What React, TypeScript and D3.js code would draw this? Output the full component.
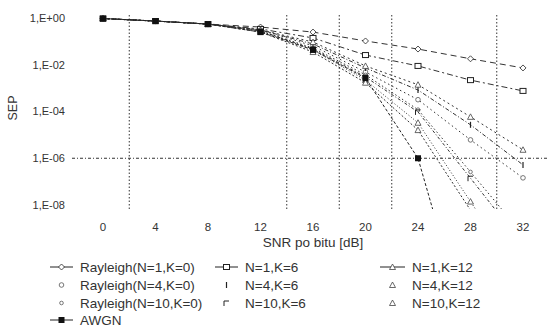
import * as d3 from "d3"

// SNR points (dB)
const snr = [0, 4, 8, 12, 16, 20, 24, 28, 32]

// SEP values
const rayN1K0 = [0.95, 0.74, 0.55, 0.41, 0.25, 0.104, 0.047, 0.018, 7.3e-3]
const rayN4K0 = [0.95, 0.74, 0.55, 0.31, 0.064, 4.9e-3, 3.2e-4, 6.1e-6, 1.45e-7]
const rayN10K0 = [0.95, 0.74, 0.55, 0.28, 0.052, 3.7e-3, 1.2e-4, 2.6e-7, 5.4e-10]
const n1K6 = [0.95, 0.74, 0.55, 0.34, 0.14, 0.026, 8.9e-3, 2.2e-3, 7.6e-4]
const n4K6 = [0.95, 0.74, 0.55, 0.31, 0.077, 7.3e-3, 8.3e-4, 2.7e-5, 5.2e-7]
const n10K6 = [0.95, 0.74, 0.55, 0.28, 0.047, 3.0e-3, 9.6e-5, 1.4e-7, 2e-10]
const n1K12 = [0.95, 0.74, 0.55, 0.31, 0.094, 8.9e-3, 1.4e-3, 5.9e-5, 2.3e-6]
const n4K12 = [0.95, 0.74, 0.55, 0.28, 0.043, 2.2e-3, 3.3e-5, 1.4e-8, 6e-12]
const n10K12 = [0.95, 0.74, 0.55, 0.25, 0.035, 1.7e-3, 1.6e-5, 6e-9, 1e-12]
const awgn = [0.95, 0.74, 0.55, 0.25, 0.043, 2.7e-3, 1e-6, 1.6e-14]

const xTicks = [0, 4, 8, 12, 16, 20, 24, 28, 32]
const yTicks = [1, 1e-2, 1e-4, 1e-6, 1e-8]
const xGrid = [2, 14, 18, 22, 30]
const yGrid = [1e-6]

type Marker = "diamond" | "circle" | "smallcircle" | "square" | "tick" | "corner" | "triangle" | "filled"

const series: { name: string; values: number[]; dash: string; marker: Marker; legendLine: boolean }[] = [
  { name: "Rayleigh(N=1,K=0)", values: rayN1K0, dash: "6,4", marker: "diamond", legendLine: true },
  { name: "Rayleigh(N=4,K=0)", values: rayN4K0, dash: "1.5,3", marker: "circle", legendLine: false },
  { name: "Rayleigh(N=10,K=0)", values: rayN10K0, dash: "1.5,2.5", marker: "smallcircle", legendLine: false },
  { name: "N=1,K=6", values: n1K6, dash: "6,3,2,3", marker: "square", legendLine: true },
  { name: "N=4,K=6", values: n4K6, dash: "4,2,1,2", marker: "tick", legendLine: false },
  { name: "N=10,K=6", values: n10K6, dash: "3,2,1,2", marker: "corner", legendLine: false },
  { name: "N=1,K=12", values: n1K12, dash: "2,3", marker: "triangle", legendLine: true },
  { name: "N=4,K=12", values: n4K12, dash: "1,2", marker: "triangle", legendLine: false },
  { name: "N=10,K=12", values: n10K12, dash: "2,2", marker: "triangle", legendLine: false },
  { name: "AWGN", values: awgn, dash: "3,2", marker: "filled", legendLine: true },
]

const legendOrder = [0, 3, 6, 1, 4, 7, 2, 5, 8, 9]

const fmt = (v: number) => {
  const e = Math.round(Math.log10(v))
  return `1,E${e >= 0 ? "+" : "-"}${String(Math.abs(e)).padStart(2, "0")}`
}

function MarkerShape({ type, x, y }: { type: Marker; x: number; y: number }) {
  const c = "#222"
  switch (type) {
    case "diamond":
      return <path d={`M${x},${y - 3}L${x + 3},${y}L${x},${y + 3}L${x - 3},${y}Z`} fill="white" stroke={c} strokeWidth={0.8} />
    case "circle":
      return <circle cx={x} cy={y} r={2.3} fill="white" stroke="#555" strokeWidth={0.8} />
    case "smallcircle":
      return <circle cx={x} cy={y} r={1.8} fill="white" stroke="#555" strokeWidth={0.8} />
    case "square":
      return <rect x={x - 3} y={y - 2.5} width={6} height={5} fill="white" stroke={c} strokeWidth={1} />
    case "tick":
      return <line x1={x} x2={x} y1={y - 3} y2={y + 3} stroke={c} strokeWidth={1.2} />
    case "corner":
      return <path d={`M${x - 2.5},${y + 3}V${y - 2}H${x + 2.5}`} fill="none" stroke={c} strokeWidth={1} />
    case "triangle":
      return <path d={`M${x},${y - 3}L${x + 3},${y + 2.5}L${x - 3},${y + 2.5}Z`} fill="white" stroke="#444" strokeWidth={0.8} />
    case "filled":
      return <rect x={x - 3} y={y - 3} width={6} height={6} fill="#111" />
  }
}

export default function App() {
  const width = 550
  const height = 330
  const x = d3.scaleLinear().domain([0, 32]).range([103, 523])
  const y = d3.scaleLog().domain([1e-8, 1]).range([205, 18])
  const clipTop = 14
  const clipBottom = 209

  const line = d3
    .line<[number, number]>()
    .x((d) => x(d[0]))
    .y((d) => y(d[1]))

  const font = "'Liberation Sans', Arial, sans-serif"
  const textColor = "#333"

  // legend columns: line start, line end, text start
  const legCols = [
    { x1: 50, x2: 73, tx: 80 },
    { x1: 215, x2: 238, tx: 245 },
    { x1: 380, x2: 405, tx: 412 },
  ]
  const legRows = [267, 285, 303, 320]

  return (
    <svg width={width} height={height} style={{ position: "absolute", left: 0, top: 0, background: "white" }} fontFamily={font}>
      <defs>
        <clipPath id="plot">
          <rect x={70} y={clipTop} width={480} height={clipBottom - clipTop} />
        </clipPath>
      </defs>

      {/* grid */}
      {xGrid.map((g) => (
        <line key={g} x1={x(g)} x2={x(g)} y1={15} y2={210} stroke="#333" strokeWidth={1} strokeDasharray="1.5,2" />
      ))}
      {yGrid.map((g) => (
        <line key={g} x1={72} x2={547} y1={y(g)} y2={y(g)} stroke="#333" strokeWidth={1} strokeDasharray="3,2,1,2" />
      ))}

      {/* y tick labels */}
      {yTicks.map((t) => (
        <text key={t} x={65} y={y(t)} dy="0.35em" textAnchor="end" fontSize={11} fill={textColor}>
          {fmt(t)}
        </text>
      ))}

      {/* x tick labels */}
      {xTicks.map((t) => (
        <text key={t} x={x(t)} y={231} textAnchor="middle" fontSize={11.5} fill={textColor}>
          {t}
        </text>
      ))}

      <text x={313} y={247} textAnchor="middle" fontSize={13.5} fill={textColor}>
        SNR po bitu [dB]
      </text>
      <text transform="translate(17,108) rotate(-90)" textAnchor="middle" fontSize={12.5} fill={textColor}>
        SEP
      </text>

      {/* series */}
      <g clipPath="url(#plot)">
        {series.map((s) => {
          const pts = s.values.map((v, i) => [snr[i], v] as [number, number])
          return (
            <g key={s.name}>
              <path
                d={line(pts) ?? ""}
                fill="none"
                stroke={s.marker === "filled" ? "#222" : "#333"}
                strokeWidth={1}
                strokeDasharray={s.dash}
              />
              {pts
                .filter((p) => p[1] >= 1e-8)
                .map((p, i) => (
                  <MarkerShape key={i} type={s.marker} x={x(p[0])} y={y(p[1])} />
                ))}
            </g>
          )
        })}
      </g>

      {/* legend */}
      {legendOrder.map((idx, k) => {
        const s = series[idx]
        const col = legCols[k === 9 ? 0 : k % 3]
        const ly = legRows[k === 9 ? 3 : Math.floor(k / 3)]
        return (
          <g key={s.name}>
            {s.legendLine && <line x1={col.x1} x2={col.x2} y1={ly} y2={ly} stroke="#222" strokeWidth={1} />}
            <MarkerShape type={s.marker} x={(col.x1 + col.x2) / 2} y={ly} />
            <text x={col.tx} y={ly} dy="0.35em" fontSize={13.5} fill={textColor}>
              {s.name}
            </text>
          </g>
        )
      })}
    </svg>
  )
}
